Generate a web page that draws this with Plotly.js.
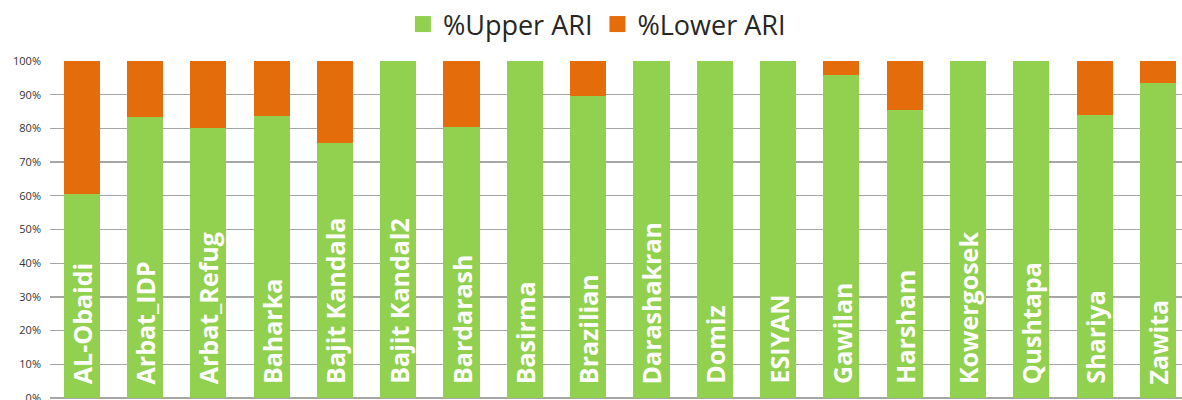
<!DOCTYPE html>
<html>
<head>
<meta charset="utf-8">
<script src="https://cdn.plot.ly/plotly-3.0.1.min.js"></script>
<style>
  html, body { margin: 0; padding: 0; background: #ffffff; }
  #chart { width: 1182px; height: 400px; }
</style>
</head>
<body>
<div id="chart"></div>
<script>
// Camps / sites
const sites = [
  "AL-Obaidi", "Arbat_IDP", "Arbat_Refug", "Baharka", "Bajit Kandala",
  "Bajit Kandal2", "Bardarash", "Basirma", "Brazilian", "Darashakran",
  "Domiz", "ESIYAN", "Gawilan", "Harsham", "Kowergosek", "Qushtapa",
  "Shariya", "Zawita"
];

// Share of upper ARI cases (%)
const upperARI = [
  60.5, 83.4, 80.2, 83.8, 75.6,
  100, 80.3, 100, 89.7, 100,
  100, 100, 95.8, 85.5, 100, 100,
  84.1, 93.6
];

// Share of lower ARI cases (%), the remainder of each column
const lowerARI = [
  39.5, 16.6, 19.8, 16.2, 24.4,
  0, 19.7, 0, 10.3, 0,
  0, 0, 4.2, 14.5, 0, 0,
  15.9, 6.4
];

const yTicks = [0, 10, 20, 30, 40, 50, 60, 70, 80, 90, 100];

const GREEN = "#92D050";
const ORANGE = "#E46C0A";

const traces = [
  {
    type: "bar",
    name: "%Upper ARI",
    x: sites,
    y: upperARI,
    marker: { color: GREEN, line: { width: 0 } },
    hoverinfo: "skip",
    showlegend: false
  },
  {
    type: "bar",
    name: "%Lower ARI",
    x: sites,
    y: lowerARI,
    marker: { color: ORANGE, line: { width: 0 } },
    hoverinfo: "skip",
    showlegend: false
  },
  // legend entries with larger square swatches
  {
    type: "scatter", mode: "markers", name: "%Upper ARI",
    x: [null], y: [null],
    marker: { symbol: "square", size: 18, color: GREEN }
  },
  {
    type: "scatter", mode: "markers", name: "%Lower ARI",
    x: [null], y: [null],
    marker: { symbol: "square", size: 18, color: ORANGE }
  }
];

// site names written upward from the foot of each column
const siteLabels = sites.map(s => ({
  x: s,
  y: 0,
  xref: "x",
  yref: "y",
  text: s,
  showarrow: false,
  textangle: -90,
  xanchor: "center",
  yanchor: "bottom",
  yshift: 12,
  font: { family: "Open Sans", size: 25, color: "#ffffff", weight: 700 }
}));

const layout = {
  width: 1182,
  height: 400,
  margin: { l: 50, r: 0, t: 61, b: 2, pad: 0 },
  paper_bgcolor: "#ffffff",
  plot_bgcolor: "#ffffff",
  barmode: "stack",
  bargap: 0.43,
  font: { family: "Open Sans", color: "#404040" },
  xaxis: {
    type: "category",
    range: [-0.5, 17.38],
    showticklabels: false,
    showgrid: false,
    zeroline: false,
    showline: false,
    ticks: "",
    fixedrange: true
  },
  yaxis: {
    range: [0, 100],
    tickvals: yTicks,
    ticktext: yTicks.map(v => v + "%"),
    tickfont: { family: "Open Sans", size: 11, color: "#333333" },
    ticks: "",
    ticklabelstandoff: 8,
    ticklabeloverflow: "allow",
    showgrid: true,
    gridcolor: "#A6A6A6",
    gridwidth: 1.3,
    zeroline: true,
    zerolinecolor: "#A6A6A6",
    zerolinewidth: 1.3,
    showline: false,
    fixedrange: true
  },
  annotations: siteLabels,
  showlegend: true,
  legend: {
    orientation: "h",
    traceorder: "normal",
    xref: "container",
    yref: "container",
    x: 0.505,
    xanchor: "center",
    y: 1,
    yanchor: "top",
    font: { family: "Open Sans", size: 27, color: "#262626" },
    bgcolor: "rgba(0,0,0,0)",
    tracegroupgap: 0
  }
};

Plotly.newPlot("chart", traces, layout, { displayModeBar: false, staticPlot: true });
</script>
</body>
</html>
